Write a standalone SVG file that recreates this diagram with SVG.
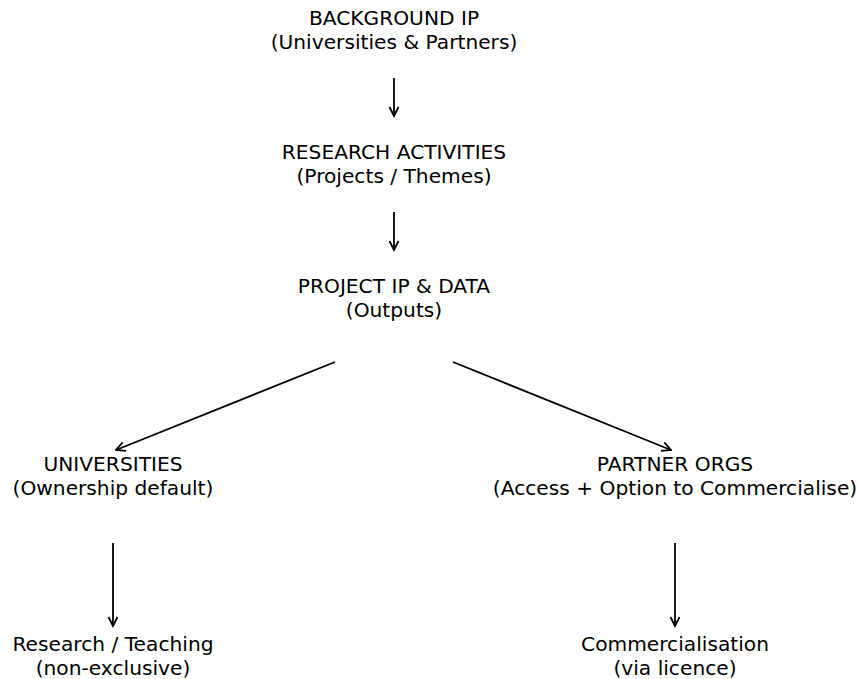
<svg xmlns="http://www.w3.org/2000/svg" width="858" height="679" viewBox="0 0 858 679">
<style>
text{font-family:"DejaVu Sans",sans-serif;font-size:20.2px;fill:#000;text-anchor:middle}
.c{stroke:#000;stroke-width:1.8;fill:none;marker-end:url(#ah)}
</style>
<defs>
<marker id="ah" viewBox="0 0 12 12" refX="10.5" refY="6" markerWidth="12" markerHeight="12" markerUnits="userSpaceOnUse" orient="auto">
<path d="M1.5,1.5 L10.5,6 L1.5,10.5" fill="none" stroke="#000" stroke-width="1.8"/>
</marker>
</defs>
<rect width="858" height="679" fill="#fff"/>
<g id="connectors">
<line class="c" x1="394" y1="78" x2="394" y2="116"/>
<line class="c" x1="394" y1="212" x2="394" y2="250"/>
<line class="c" x1="335" y1="362" x2="116" y2="450"/>
<line class="c" x1="453" y1="362" x2="671" y2="450"/>
<line class="c" x1="113" y1="543" x2="113" y2="626"/>
<line class="c" x1="675" y1="543" x2="675" y2="626"/>
</g>
<g id="background-ip"><text x="394" y="25">BACKGROUND IP</text><text x="394" y="49">(Universities &amp; Partners)</text></g>
<g id="research-activities"><text x="394" y="159">RESEARCH ACTIVITIES</text><text x="394" y="183">(Projects / Themes)</text></g>
<g id="project-ip"><text x="394" y="293">PROJECT IP &amp; DATA</text><text x="394" y="317">(Outputs)</text></g>
<g id="universities"><text x="113" y="471">UNIVERSITIES</text><text x="113" y="495">(Ownership default)</text></g>
<g id="partner-orgs"><text x="675" y="471">PARTNER ORGS</text><text x="675" y="495">(Access + Option to Commercialise)</text></g>
<g id="research-teaching"><text x="113" y="651">Research / Teaching</text><text x="113" y="675">(non-exclusive)</text></g>
<g id="commercialisation"><text x="675" y="651">Commercialisation</text><text x="675" y="675">(via licence)</text></g>
</svg>
